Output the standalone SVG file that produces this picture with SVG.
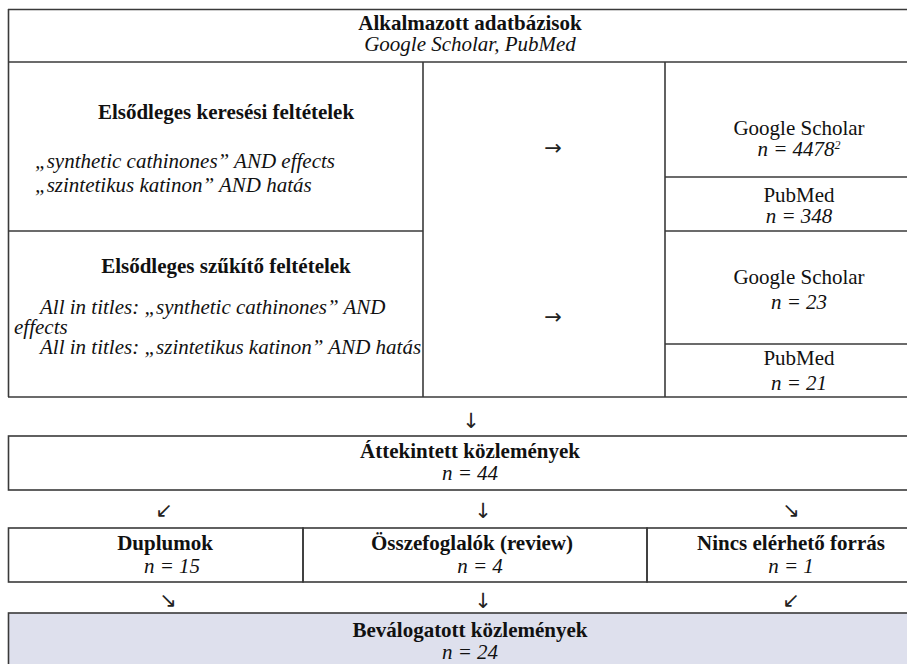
<svg xmlns="http://www.w3.org/2000/svg" width="907" height="664" viewBox="0 0 907 664">
<style>
text{font-family:"Liberation Serif","Times New Roman","DejaVu Serif",serif;font-size:21px;fill:#111;}
.b{font-weight:bold;}
.i{font-style:italic;}
.c{text-anchor:middle;}
.ln{stroke:#3a3a3a;stroke-width:1.6;fill:none;}
.arr{font-family:"DejaVu Sans",sans-serif;font-size:21px;text-anchor:middle;fill:#222;}
</style>
<rect x="0" y="0" width="907" height="664" fill="#fff"/>
<g id="header">
<line class="ln" x1="8" y1="9.5" x2="907" y2="9.5"/>
<line class="ln" x1="8" y1="62" x2="907" y2="62"/>
<line class="ln" x1="8.5" y1="9" x2="8.5" y2="397"/>
<text class="b c" x="470" y="30">Alkalmazott adatbázisok</text>
<text class="i c" x="470" y="51">Google Scholar, PubMed</text>
</g>
<g id="search-terms">
<line class="ln" x1="8" y1="231" x2="423" y2="231"/>
<line class="ln" x1="423" y1="62" x2="423" y2="397"/>
<text class="b c" x="226" y="119">Elsődleges keresési feltételek</text>
<text class="i" x="35" y="168">„synthetic cathinones” AND effects</text>
<text class="i" x="35" y="192">„szintetikus katinon” AND hatás</text>
</g>
<g id="gs1">
<line class="ln" x1="665" y1="62" x2="665" y2="397"/>
<line class="ln" x1="665" y1="177" x2="907" y2="177"/>
<text class="c" x="799" y="135">Google Scholar</text>
<text class="i c" x="799" y="156">n = 4478<tspan font-size="12" dy="-7">2</tspan></text>
</g>
<g id="pm1">
<line class="ln" x1="665" y1="231" x2="907" y2="231"/>
<text class="c" x="799" y="202">PubMed</text>
<text class="i c" x="799" y="223">n = 348</text>
</g>
<g id="narrow-terms">
<text class="b c" x="226" y="273">Elsődleges szűkítő feltételek</text>
<text class="i" x="40" y="314">All in titles: „synthetic cathinones” AND</text>
<text class="i" x="14" y="334">effects</text>
<text class="i" x="40" y="354">All in titles: „szintetikus katinon” AND hatás</text>
</g>
<g id="gs2">
<line class="ln" x1="665" y1="344" x2="907" y2="344"/>
<text class="c" x="799" y="284">Google Scholar</text>
<text class="i c" x="799" y="309">n = 23</text>
</g>
<g id="pm2">
<line class="ln" x1="8" y1="397" x2="907" y2="397"/>
<text class="c" x="799" y="365">PubMed</text>
<text class="i c" x="799" y="390">n = 21</text>
</g>
<g id="reviewed">
<rect class="ln" x="8.5" y="436" width="930" height="54"/>
<text class="b c" x="470" y="458">Áttekintett közlemények</text>
<text class="i c" x="470" y="480">n = 44</text>
</g>
<g id="duplicates">
<rect class="ln" x="8.5" y="528" width="294.5" height="54"/>
<text class="b c" x="165" y="550">Duplumok</text>
<text class="i c" x="172" y="573">n = 15</text>
</g>
<g id="reviews">
<rect class="ln" x="303" y="528" width="344" height="54"/>
<text class="b c" x="472" y="550">Összefoglalók (review)</text>
<text class="i c" x="480" y="573">n = 4</text>
</g>
<g id="unavailable">
<rect class="ln" x="647" y="528" width="290" height="54"/>
<text class="b c" x="791" y="550">Nincs elérhető forrás</text>
<text class="i c" x="791" y="573">n = 1</text>
</g>
<g id="selected">
<rect x="8.5" y="613" width="930" height="60" fill="#dee0ed" stroke="#3a3a3a" stroke-width="1.6"/>
<text class="b c" x="470" y="637">Beválogatott közlemények</text>
<text class="i c" x="470" y="659">n = 24</text>
</g>
<g id="connectors">
<text class="arr" x="553" y="155">→</text>
<text class="arr" x="553" y="324">→</text>
<text class="arr" x="471" y="428">↓</text>
<text class="arr" x="164" y="517">↙</text>
<text class="arr" x="483" y="518">↓</text>
<text class="arr" x="791" y="517">↘</text>
<text class="arr" x="168" y="607">↘</text>
<text class="arr" x="483" y="608">↓</text>
<text class="arr" x="791" y="607">↙</text>
</g>
</svg>
